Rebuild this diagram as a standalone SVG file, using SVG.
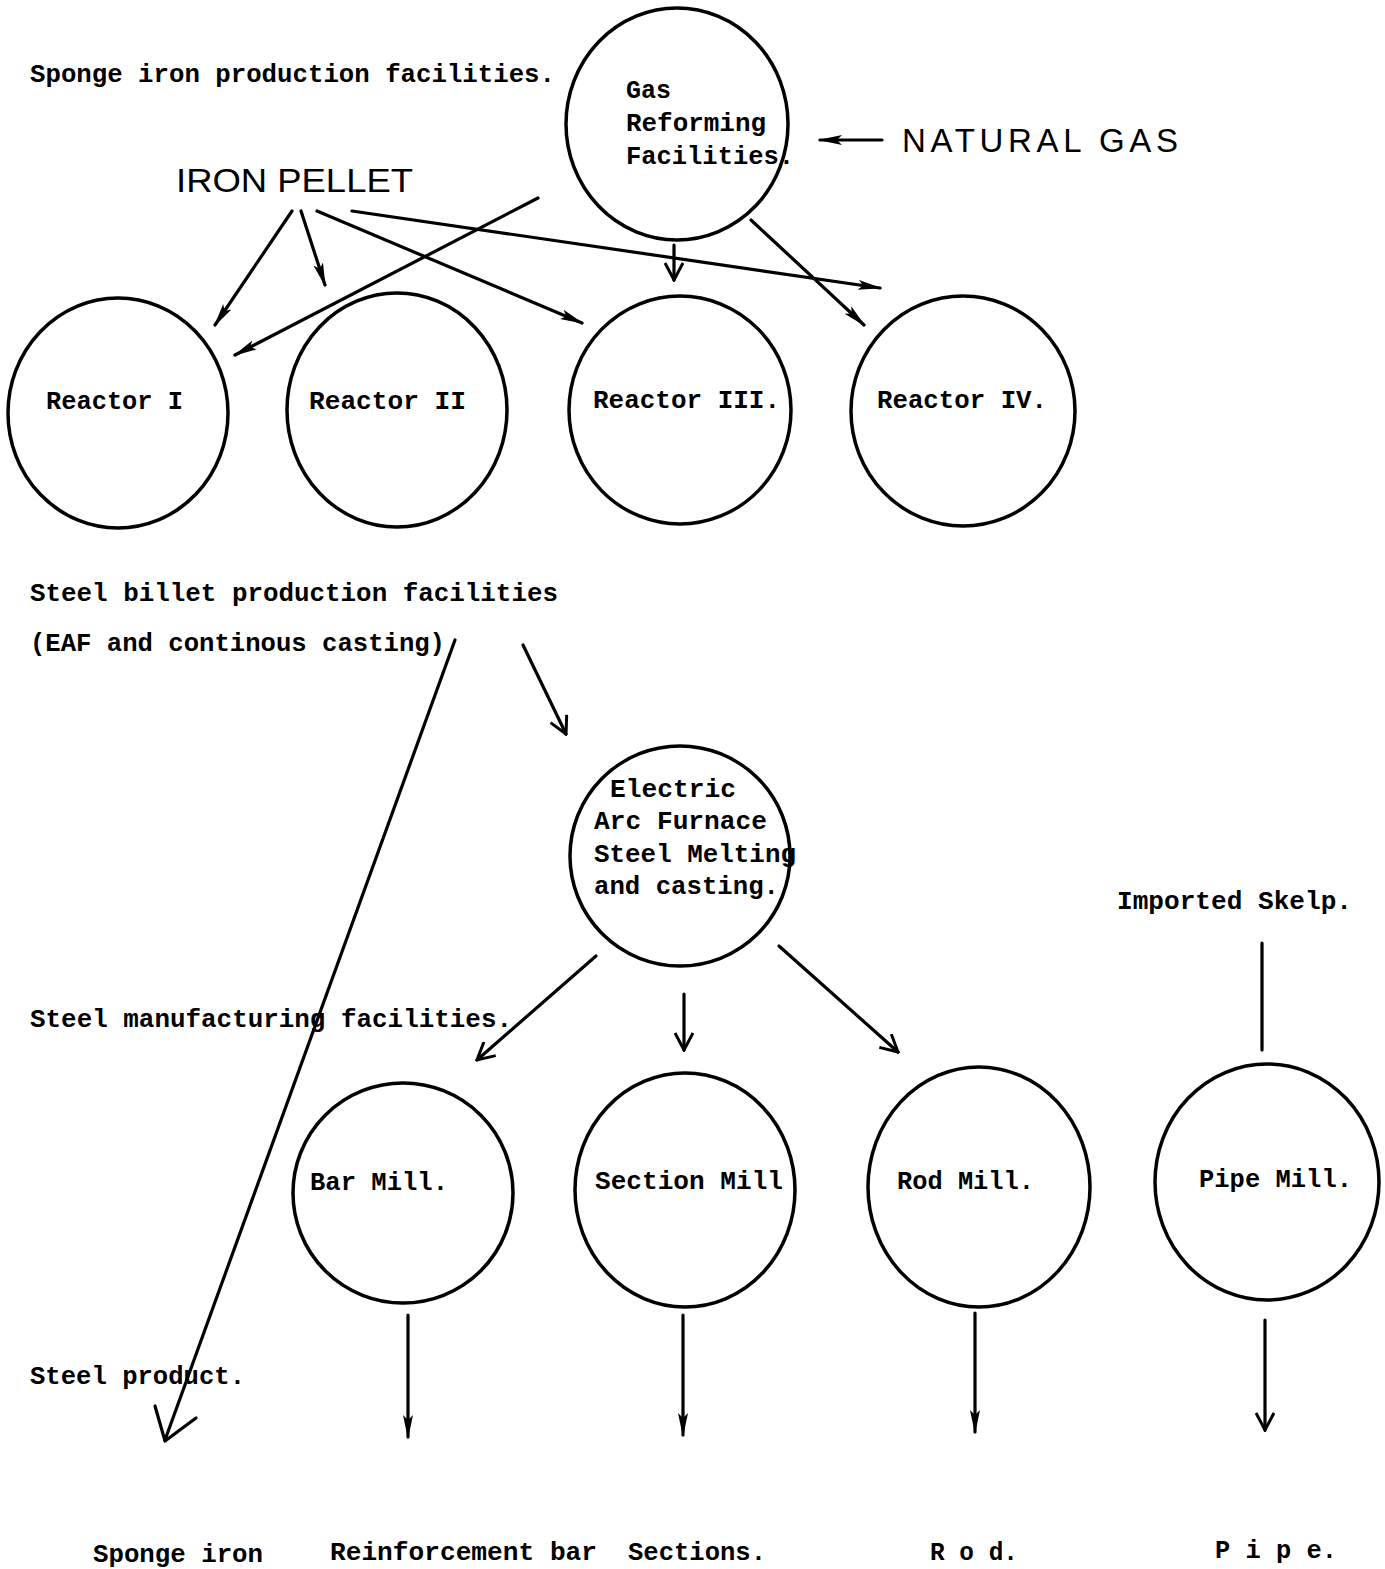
<svg xmlns="http://www.w3.org/2000/svg" width="1385" height="1569" viewBox="0 0 1385 1569">
<style>
.bg{fill:#fff}
.node{fill:none;stroke:#000;stroke-width:3.5}
.t{font-family:"Liberation Mono","Courier New",monospace;font-weight:bold;font-size:25px;fill:#000}
.s{font-family:"Liberation Sans",Arial,sans-serif;font-size:33px;fill:#000}
.c{fill:none;stroke:#000;stroke-width:3.2;stroke-linecap:round;stroke-linejoin:round}
</style>
<defs>
<marker id="fa" viewBox="0 0 24 12" refX="22" refY="6" markerWidth="24" markerHeight="12" markerUnits="userSpaceOnUse" orient="auto">
<path d="M0,1 L24,6 L0,11 L5,6 z" fill="#000"/>
</marker>
<marker id="va" viewBox="0 0 20 20" refX="18" refY="10" markerWidth="20" markerHeight="20" markerUnits="userSpaceOnUse" orient="auto">
<path d="M1,1 L18,10 L1,19" fill="none" stroke="#000" stroke-width="3"/>
</marker>
</defs>
<rect class="bg" x="0" y="0" width="1385" height="1569"/>

<g id="labels">
<text class="t" x="30" y="82" textLength="525" lengthAdjust="spacingAndGlyphs">Sponge iron production facilities.</text>
<text class="s" x="176" y="192" textLength="237" lengthAdjust="spacingAndGlyphs">IRON PELLET</text>
<text class="s" x="902" y="152" textLength="276" lengthAdjust="spacing">NATURAL GAS</text>
<text class="t" x="30" y="601" textLength="528" lengthAdjust="spacingAndGlyphs">Steel billet production facilities</text>
<text class="t" x="30" y="651" textLength="415" lengthAdjust="spacingAndGlyphs">(EAF and continous casting)</text>
<text class="t" x="30" y="1027" textLength="482" lengthAdjust="spacingAndGlyphs">Steel manufacturing facilities.</text>
<text class="t" x="1117" y="909" textLength="235" lengthAdjust="spacingAndGlyphs">Imported Skelp.</text>
<text class="t" x="30" y="1384" textLength="215" lengthAdjust="spacingAndGlyphs">Steel product.</text>
<text class="t" x="93" y="1562" textLength="170" lengthAdjust="spacingAndGlyphs">Sponge iron</text>
<text class="t" x="330" y="1560" textLength="267" lengthAdjust="spacingAndGlyphs">Reinforcement bar</text>
<text class="t" x="628" y="1560" textLength="138" lengthAdjust="spacingAndGlyphs">Sections.</text>
<text class="t" x="930" y="1560" textLength="88" lengthAdjust="spacingAndGlyphs">R o d.</text>
<text class="t" x="1215" y="1558" textLength="122" lengthAdjust="spacingAndGlyphs">P i p e.</text>
</g>

<g id="gas-reforming">
<ellipse class="node" cx="677" cy="124" rx="111" ry="116"/>
<text class="t" x="626" y="98">Gas</text>
<text class="t" x="626" y="131" textLength="140" lengthAdjust="spacingAndGlyphs">Reforming</text>
<text class="t" x="626" y="164" textLength="168" lengthAdjust="spacingAndGlyphs">Facilities.</text>
</g>

<g id="reactor-1">
<ellipse class="node" cx="118" cy="413" rx="110" ry="115"/>
<text class="t" x="46" y="409" textLength="137" lengthAdjust="spacingAndGlyphs">Reactor I</text>
</g>
<g id="reactor-2">
<ellipse class="node" cx="397" cy="410" rx="110" ry="117"/>
<text class="t" x="309" y="409" textLength="157" lengthAdjust="spacingAndGlyphs">Reactor II</text>
</g>
<g id="reactor-3">
<ellipse class="node" cx="680" cy="410" rx="111" ry="114"/>
<text class="t" x="593" y="408" textLength="187" lengthAdjust="spacingAndGlyphs">Reactor III.</text>
</g>
<g id="reactor-4">
<ellipse class="node" cx="963" cy="411" rx="112" ry="115"/>
<text class="t" x="877" y="408" textLength="170" lengthAdjust="spacingAndGlyphs">Reactor IV.</text>
</g>

<g id="eaf">
<ellipse class="node" cx="680" cy="856" rx="110" ry="110"/>
<text class="t" x="610" y="797" textLength="126" lengthAdjust="spacingAndGlyphs">Electric</text>
<text class="t" x="594" y="829" textLength="173" lengthAdjust="spacingAndGlyphs">Arc Furnace</text>
<text class="t" x="594" y="862" textLength="202" lengthAdjust="spacingAndGlyphs">Steel Melting</text>
<text class="t" x="594" y="894" textLength="185" lengthAdjust="spacingAndGlyphs">and casting.</text>
</g>

<g id="bar-mill">
<ellipse class="node" cx="403" cy="1193" rx="110" ry="110"/>
<text class="t" x="310" y="1190" textLength="138" lengthAdjust="spacingAndGlyphs">Bar Mill.</text>
</g>
<g id="section-mill">
<ellipse class="node" cx="685" cy="1190" rx="110" ry="117"/>
<text class="t" x="595" y="1189" textLength="188" lengthAdjust="spacingAndGlyphs">Section Mill</text>
</g>
<g id="rod-mill">
<ellipse class="node" cx="979" cy="1187" rx="111" ry="120"/>
<text class="t" x="897" y="1189" textLength="137" lengthAdjust="spacingAndGlyphs">Rod Mill.</text>
</g>
<g id="pipe-mill">
<ellipse class="node" cx="1267" cy="1182" rx="112" ry="118"/>
<text class="t" x="1199" y="1187" textLength="153" lengthAdjust="spacingAndGlyphs">Pipe Mill.</text>
</g>

<g id="connectors">
<line class="c" x1="882" y1="140" x2="820" y2="140" marker-end="url(#fa)"/>
<line class="c" x1="292" y1="211" x2="215" y2="325" marker-end="url(#fa)"/>
<line class="c" x1="301" y1="211" x2="325" y2="285" marker-end="url(#fa)"/>
<line class="c" x1="317" y1="211" x2="582" y2="323" marker-end="url(#fa)"/>
<line class="c" x1="352" y1="211" x2="880" y2="288" marker-end="url(#fa)"/>
<line class="c" x1="538" y1="198" x2="235" y2="355" marker-end="url(#fa)"/>
<line class="c" x1="674" y1="245" x2="674" y2="280" marker-end="url(#va)"/>
<line class="c" x1="751" y1="220" x2="864" y2="325" marker-end="url(#fa)"/>
<line class="c" x1="455" y1="640" x2="165" y2="1440"/>
<polyline class="c" points="155,1406 165,1441 196,1418"/>
<line class="c" x1="523" y1="645" x2="566" y2="734" marker-end="url(#va)"/>
<line class="c" x1="596" y1="956" x2="477" y2="1060" marker-end="url(#va)"/>
<line class="c" x1="684" y1="994" x2="684" y2="1050" marker-end="url(#va)"/>
<line class="c" x1="779" y1="946" x2="898" y2="1052" marker-end="url(#va)"/>
<line class="c" x1="1262" y1="943" x2="1262" y2="1050"/>
<line class="c" x1="408" y1="1315" x2="408" y2="1437" marker-end="url(#fa)"/>
<line class="c" x1="683" y1="1315" x2="683" y2="1435" marker-end="url(#fa)"/>
<line class="c" x1="975" y1="1313" x2="975" y2="1432" marker-end="url(#fa)"/>
<line class="c" x1="1265" y1="1320" x2="1265" y2="1430" marker-end="url(#va)"/>
</g>
</svg>
